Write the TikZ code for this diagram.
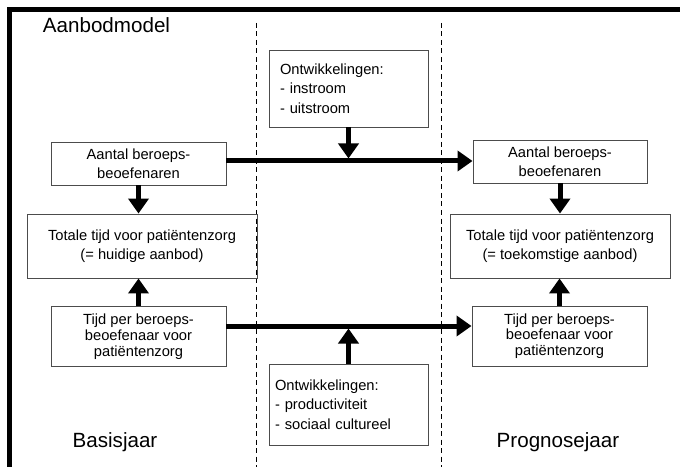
\documentclass[tikz,border=0pt]{standalone}
\usepackage{fontspec}
\setmainfont{Liberation Sans}
\usetikzlibrary{arrows.meta}
\tikzset{
  box/.style={draw=black!70, line width=0.9bp, inner sep=0pt, align=center,
    font=\fontsize{14.7bp}{19.5bp}\selectfont},
  tijdbox/.style={box, font=\fontsize{14.7bp}{15.8bp}\selectfont},
  devbox/.style={draw=black!70, line width=0.9bp, inner ysep=0pt, align=left,
    font=\fontsize{14.7bp}{19.5bp}\selectfont},
  big/.style={line width=5bp, -{Triangle[length=15bp,width=20bp]}},
  dashline/.style={line width=0.9bp, dash pattern=on 5bp off 3.5bp},
  biglabel/.style={font=\fontsize{20.6bp}{24bp}\selectfont, anchor=base, inner sep=0pt},
}
\begin{document}
\begin{tikzpicture}[x=1bp,y=-1bp]
\useasboundingbox (0,0) rectangle (680,467);
\clip (0,0) rectangle (680,467);
% frame
\draw[line width=4.5bp] (9.5,480) -- (9.5,9.5) -- (700,9.5);
% dashed separators
\draw[dashline] (256,23) -- (256,470);
\draw[dashline] (441,23) -- (441,470);
% labels
\node[biglabel] (lab0) at (106.5,33) {Aanbodmodel};
\node[biglabel] (lab1) at (115,447) {Basisjaar};
\node[biglabel] (lab2) at (558,447) {Prognosejaar};
% boxes
\node[box, minimum width=175bp, minimum height=43bp] (a1) at (138.5,163.5) {Aantal beroeps-\\beoefenaren};
\node[box, minimum width=174bp, minimum height=43bp] (b1) at (560,161.5) {Aantal beroeps-\\beoefenaren};
\node[box, minimum width=230bp, minimum height=64bp] (t1) at (142,246) {Totale tijd voor patiëntenzorg\\(= huidige aanbod)};
\node[box, minimum width=220bp, minimum height=64bp] (t2) at (560,246) {Totale tijd voor patiëntenzorg\\(= toekomstige aanbod)};
\node[tijdbox, minimum width=175bp, minimum height=60bp] (c1) at (138.5,336.5) {Tijd per beroeps-\\beoefenaar voor\\patiëntenzorg};
\node[tijdbox, minimum width=175bp, minimum height=60bp] (c2) at (559.5,336) {Tijd per beroeps-\\beoefenaar voor\\patiëntenzorg};
\node[devbox, inner xsep=11bp, text width=137bp, minimum height=77bp] (d1) at (348.5,88.5) {Ontwikkelingen:\\- instroom\\- uitstroom};
\node[devbox, inner xsep=6bp, text width=147bp, minimum height=81bp] (d2) at (348.5,404.5) {Ontwikkelingen:\\- productiviteit\\- sociaal cultureel};
% connector levels
\coordinate (ytop) at (348.5,161);
\coordinate (ybot) at (348.5,326);
% arrows
\draw[big] (a1.east |- ytop) -- (b1.west |- ytop);
\draw[big, shorten >=2.5bp] (d1.south) -- (d1.south |- ytop);
\draw[big] (a1.south) -- (a1.south |- t1.north);
\draw[big] (b1.south) -- (b1.south |- t2.north);
\draw[big] (c1.north) -- (c1.north |- t1.south);
\draw[big] (c2.north) -- (c2.north |- t2.south);
\draw[big] (c1.east |- ybot) -- (c2.west |- ybot);
\draw[big, shorten >=2.5bp] (d2.north) -- (d2.north |- ybot);
\end{tikzpicture}
\end{document}
